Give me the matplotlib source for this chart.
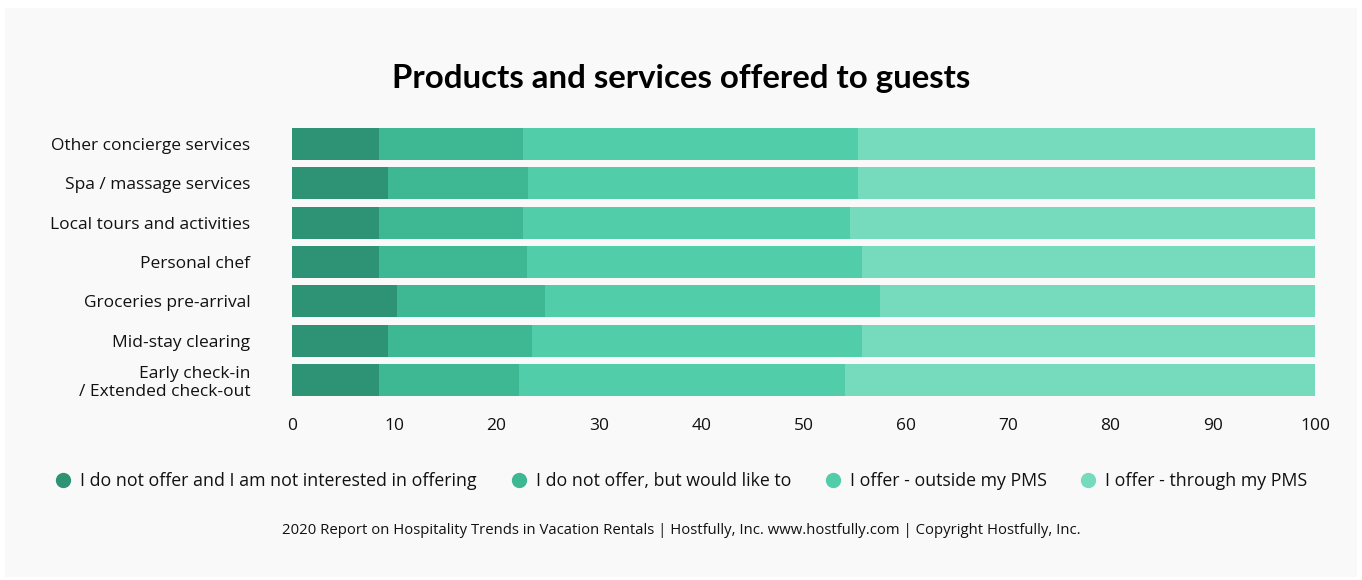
import matplotlib.pyplot as plt
from matplotlib.patches import Rectangle
from matplotlib.lines import Line2D
import numpy as np

# services, top to bottom
services = ["Other concierge services", "Spa / massage services", "Local tours and activities",
            "Personal chef", "Groceries pre-arrival", "Mid-stay clearing",
            "Early check-in\n/ Extended check-out"]

not_interested = [8.5, 9.4, 8.5, 8.5, 10.3, 9.4, 8.5]
would_like = [14.1, 13.7, 14.1, 14.5, 14.4, 14.1, 13.7]
outside_pms = [32.7, 32.2, 31.9, 32.7, 32.8, 32.2, 31.9]
through_pms = [44.7, 44.7, 45.5, 44.3, 42.5, 44.3, 45.9]

series_names = ["I do not offer and I am not interested in offering",
                "I do not offer, but would like to",
                "I offer - outside my PMS",
                "I offer - through my PMS"]
colors = ["#2e9375", "#3db892", "#52cdaa", "#76dabd"]

plt.rcParams['font.family'] = ['Open Sans', 'DejaVu Sans']

fig = plt.figure(figsize=(13.62, 5.8), dpi=100)
fig.patch.set_facecolor("white")
# light grey card behind everything
fig.patches.append(Rectangle((5 / 1362, 3 / 580), 1352 / 1362, 569 / 580,
                             transform=fig.transFigure, facecolor="#f9f9f9",
                             edgecolor="none", zorder=-10))

ax = fig.add_axes([0.2144, 0.3109, 0.7511, 0.4748])
ax.set_facecolor("none")

y = np.arange(len(services))
left = np.zeros(len(services))
for vals, name, c in zip([not_interested, would_like, outside_pms, through_pms], series_names, colors):
    ax.barh(y, vals, left=left, height=0.81, color=c, label=name)
    left += np.array(vals)

ax.set_ylim(len(services) - 0.5, -0.5)
ax.set_xlim(0, 100)
ax.set_yticks(y)
ax.set_yticklabels(services, fontsize=12.5, color="#111111")
ax.set_xticks(np.arange(0, 101, 10))
ax.tick_params(axis="x", length=0, pad=13, labelsize=12.5, labelcolor="#111111")
ax.tick_params(axis="y", length=0, pad=30)
for lab in ax.get_yticklabels():
    lab.set_linespacing(1.2)
for s in ax.spines.values():
    s.set_visible(False)

fig.text(0.5004, 0.8655, "Products and services offered to guests", ha="center", va="center",
         fontsize=23.8, fontweight="bold", family=["Lato", "DejaVu Sans"], color="#000000")

handles = [Line2D([], [], marker="o", linestyle="none", markersize=10, markerfacecolor=c,
                  markeredgecolor=c) for c in colors]
fig.legend(handles, series_names, loc="center", bbox_to_anchor=(0.5, 0.170), ncol=4,
           frameon=False, fontsize=12.8, handletextpad=0.45, columnspacing=1.85,
           handlelength=1.0, labelcolor="#111111")

fig.text(0.5, 0.086, "2020 Report on Hospitality Trends in Vacation Rentals | Hostfully, Inc. "
         "www.hostfully.com | Copyright Hostfully, Inc.", ha="center", va="center",
         fontsize=10.75, color="#111111")

fig.savefig("out.png", dpi=100, facecolor=fig.get_facecolor())
